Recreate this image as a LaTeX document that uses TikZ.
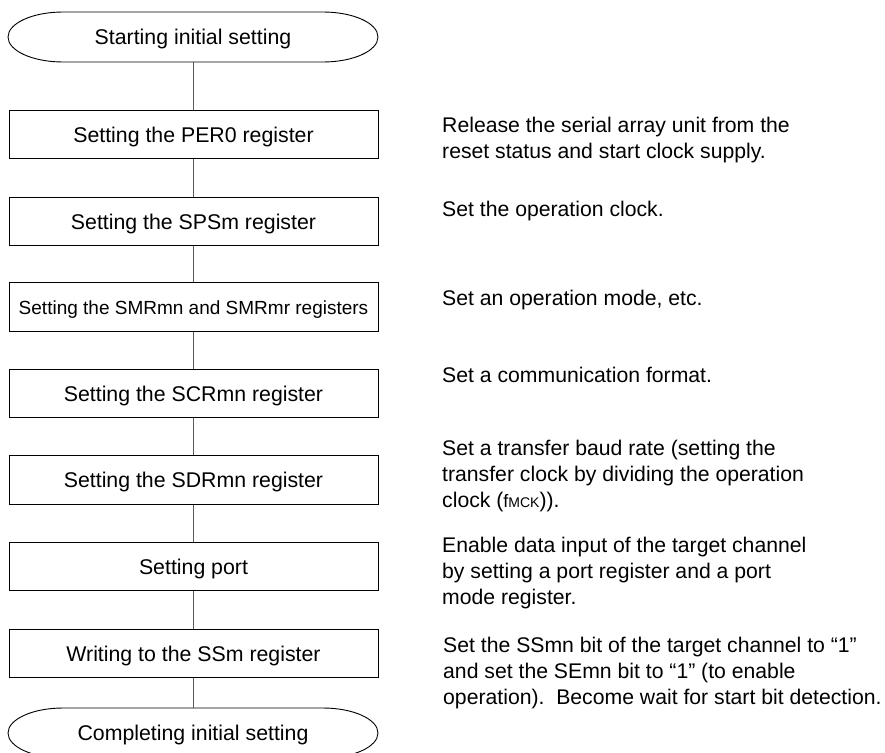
\documentclass[tikz,border=0pt]{standalone}
\usepackage{fontspec}
\setmainfont{Liberation Sans}
\begin{document}
\begin{tikzpicture}[x=1pt,y=-1pt,
  box/.style={draw, line width=1pt, minimum width=369pt, minimum height=48.5pt,
    inner sep=0pt, text height=15pt, text depth=0pt, font=\fontsize{21.3}{26}\selectfont},
  term/.style={minimum width=370pt, minimum height=50pt, inner sep=0pt,
    text height=15pt, text depth=0pt, font=\fontsize{21.3}{26}\selectfont},
  termline/.style={line width=0.9pt},
  conn/.style={line width=0.9pt, draw=black!65},
  note/.style={anchor=north west, inner sep=0pt, align=left,
    font=\fontsize{21.2}{26.3}\selectfont}]
\useasboundingbox (0,0) rectangle (885,752);

% terminators
\draw[termline] (63,12) -- (323,12)
  arc[start angle=90, end angle=-90, x radius=55pt, y radius=25pt] -- (63,62)
  arc[start angle=270, end angle=90, x radius=55pt, y radius=25pt] -- cycle;
\node[term] (start) at (193,37) {Starting initial setting};

\node[box] (b1) at (193.5,134.5) {Setting the PER0 register};
\node[box] (b2) at (193.5,221.5) {Setting the SPSm register};
\node[box, font=\fontsize{19}{24}\selectfont] (b3) at (193.5,307) {Setting the SMRmn and SMRmr registers};
\node[box] (b4) at (193.5,393.5) {Setting the SCRmn register};
\node[box] (b5) at (193.5,480) {Setting the SDRmn register};
\node[box] (b6) at (193.5,566.5) {Setting port};
\node[box] (b7) at (193.5,653.5) {Writing to the SSm register};

\draw[termline] (63,708) -- (323,708)
  arc[start angle=90, end angle=-90, x radius=55pt, y radius=25pt] -- (63,758)
  arc[start angle=270, end angle=90, x radius=55pt, y radius=25pt] -- cycle;
\node[term] (end) at (193,733) {Completing initial setting};

% connectors
\draw[conn] (start.south) -- (start.south |- b1.north);
\draw[conn] (b1.south) -- (b2.north);
\draw[conn] (b2.south) -- (b3.north);
\draw[conn] (b3.south) -- (b4.north);
\draw[conn] (b4.south) -- (b5.north);
\draw[conn] (b5.south) -- (b6.north);
\draw[conn] (b6.south) -- (b7.north);
\draw[conn] (b7.south) -- (b7.south |- end.north);

% notes
\node[note] (n1) at (442,116.7) {Release the serial array unit from the\\reset status and start clock supply.};
\node[note] (n2) at (442,200.7) {Set the operation clock.};
\node[note] (n3) at (442,289.7) {Set an operation mode, etc.};
\node[note] (n4) at (442,366.7) {Set a communication format.};
\node[note] (n5) at (442,439.7) {Set a transfer baud rate (setting the\\transfer clock by dividing the operation\\clock ({\fontsize{18}{18}\selectfont f{\fontsize{14}{14}\selectfont MCK}})).};
\node[note] (n6) at (442,536.7) {Enable data input of the target channel\\by setting a port register and a port\\mode register.};
\node[note, font=\fontsize{21.2}{26}\selectfont] (n7) at (443,636.7) {Set the SSmn bit of the target channel to “1”\\and set the SEmn bit to “1” (to enable\\operation).\ \ Become wait for start bit detection.};
\end{tikzpicture}
\end{document}
